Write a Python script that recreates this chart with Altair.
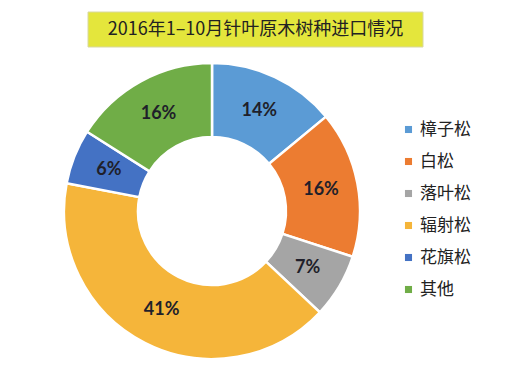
import altair as alt
import pandas as pd

species = ["樟子松", "白松", "落叶松", "辐射松", "花旗松", "其他"]
shares = [14, 16, 7, 41, 6, 16]
colors = ["#5b9bd5", "#ec7c31", "#a5a5a5", "#f5b53a", "#4472c4", "#70ad47"]
title_text = "2016年1–10月针叶原木树种进口情况"

df = pd.DataFrame({
    "species": species,
    "share": shares,
    "order": list(range(len(species))),
    "label": [f"{v}%" for v in shares],
})

CX, CY = 204, 203
color_scale = alt.Scale(domain=species, range=colors)

base = alt.Chart(df).encode(
    theta=alt.Theta("share:Q", stack=True),
    order=alt.Order("order:Q"),
)

arcs = base.mark_arc(
    innerRadius=74, outerRadius=148, stroke="white", strokeWidth=2.5
).encode(
    x=alt.value(CX),
    y=alt.value(CY),
    color=alt.Color(
        "species:N",
        scale=color_scale,
        sort=species,
        legend=alt.Legend(
            title=None,
            orient="none",
            legendX=392,
            legendY=113,
            symbolType="square",
            symbolSize=50,
            symbolStrokeWidth=0,
            labelFontSize=17,
            labelFont="Noto Sans CJK SC",
            labelColor="#222222",
            labelOffset=3,
            rowPadding=14,
        ),
    ),
)

labels = base.mark_text(
    radius=111, fontSize=18, fontWeight="bold", font="Lato", color="#1f1f2a"
).encode(
    x=alt.value(CX),
    y=alt.value(CY),
    text="label:N",
)

title_df = pd.DataFrame({"t": [title_text]})
title_box = alt.Chart(title_df).mark_rect(
    color="#e4e63c", stroke="#d8d8a0", strokeWidth=1
).encode(
    x=alt.value(80), x2=alt.value(415), y=alt.value(4), y2=alt.value(39)
)
title_txt = alt.Chart(title_df).mark_text(
    fontSize=18, font="Noto Sans CJK SC", color="#222222", baseline="middle"
).encode(
    x=alt.value(247.5), y=alt.value(21.5), text="t:N"
)

chart = alt.layer(title_box, title_txt, arcs, labels).properties(
    width=495, height=357, padding=0
).configure_view(stroke=None)

chart.save("out.html", embed_options={"renderer": "svg", "actions": False})
